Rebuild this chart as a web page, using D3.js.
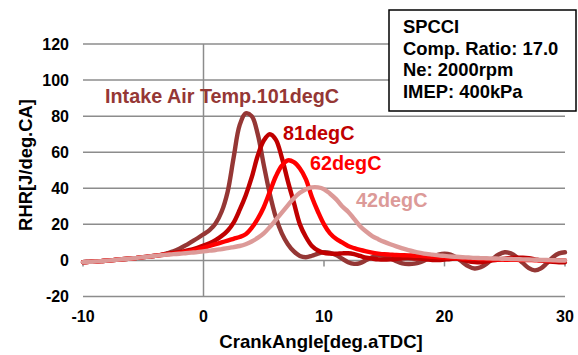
<!DOCTYPE html>
<html>
<head>
<meta charset="utf-8">
<script src="https://cdn.jsdelivr.net/npm/d3@7"></script>
<style>
  html, body { margin: 0; padding: 0; background: #fff; }
  svg { display: block; font-family: "Liberation Sans", Arial, sans-serif; font-weight: bold; }
</style>
</head>
<body>
<svg id="chart" width="578" height="355"></svg>
<script>
// Crank angle sampling (deg aTDC), 0.5 deg steps
const crankAngle = d3.range(-10, 30.001, 0.5);

// Rate of heat release [J/deg.CA] per intake air temperature
const rhr101 = [
  -1.0,-0.8,-0.6,-0.4,-0.1,0.2,0.5,0.8,1.1,1.4,1.8,2.2,2.6,3.1,4.0,5.0,6.5,8.3,10.3,12.3,
  14.5,16.8,20.5,27,38,57,75,81.5,80,70,53,37,24,15,9,5,2.5,1.8,2.6,3.8,
  4.5,4.2,3.0,1.0,-1.0,-1.9,-1.5,0.2,1.8,2.8,2.6,1.2,-0.4,-1.6,-2.0,-1.8,-0.9,0.5,2.0,3.2,
  3.7,3.2,1.5,-1.0,-3.3,-4.5,-3.8,-1.8,0.9,3.3,4.5,3.9,1.8,-1.4,-4.3,-5.5,-4.4,-1.5,1.8,3.9,
  4.5
];
const rhr81 = [
  -1.0,-0.8,-0.6,-0.4,-0.1,0.2,0.5,0.8,1.1,1.4,1.8,2.2,2.6,3.1,3.6,4.1,4.6,5.3,6.0,7.0,
  8.2,9.5,11.2,13.5,16.5,21,28,36,46,58,66.5,70,67,57,44,32,20,13,8,5.5,
  4.2,3.8,3.7,3.9,4.0,3.5,2.5,1.5,1.0,0.6,0.5,0.6,0.8,1.2,1.3,1.1,1.0,0.6,0.2,0.2,
  0.5,0.8,1.0,0.3,-0.5,-0.9,-1.0,-0.5,0,0.5,1.0,1.4,1.5,1.5,1.2,0.6,0,-0.5,-0.8,-1.0,
  -1.0
];
const rhr62 = [
  -1.0,-0.8,-0.6,-0.4,-0.1,0.2,0.5,0.8,1.1,1.4,1.8,2.2,2.6,3.0,3.4,3.8,4.2,4.7,5.3,6.1,
  7.0,8.0,9.0,10.0,11.0,12.0,13.0,14.5,18,23,29.5,38,46.5,52.5,55.5,54.5,51,45,35,27,
  20,15,12,10,8,6.8,5.8,5.0,4.3,3.8,3.4,3.2,3.0,2.9,2.8,2.6,2.5,2.3,2.0,1.8,
  1.6,1.4,1.2,1.1,1.0,0.9,0.8,0.7,0.6,0.5,0.4,0.3,0.3,0.2,0.2,0.1,0.1,0,0,0,
  0
];
const rhr42 = [
  -1.0,-0.8,-0.6,-0.4,-0.1,0.2,0.5,0.8,1.1,1.4,1.8,2.2,2.6,2.9,3.2,3.5,3.7,4.0,4.3,4.6,
  5.0,5.4,5.8,6.3,6.8,7.4,8.0,9.0,10.5,12.5,15,18.5,22.5,26.5,30.5,34.5,37.5,39.5,40.5,40.5,
  39.5,37,34,30,27,23,19,16,13.5,11.8,10.3,9.0,7.8,6.7,5.7,4.9,4.2,3.6,3.2,2.8,
  2.5,2.2,2.0,1.8,1.6,1.4,1.3,1.2,1.1,1.0,0.9,0.8,0.7,0.6,0.5,0.4,0.3,0.2,0.1,0,
  0
];

const seriesNames = ["Intake Air Temp.101degC", "81degC", "62degC", "42degC"];
const seriesColors = ["#953735", "#c00000", "#ff0000", "#dc9a98"];
const seriesValues = [rhr101, rhr81, rhr62, rhr42];

const xTicks = [-10, 0, 10, 20, 30];
const yTicks = [-20, 0, 20, 40, 60, 80, 100, 120];
const conditions = ["SPCCI", "Comp. Ratio: 17.0", "Ne: 2000rpm", "IMEP: 400kPa"];

const svg = d3.select("#chart");
const x = d3.scaleLinear().domain([-10, 30]).range([83, 565]);
const y = d3.scaleLinear().domain([-20, 120]).range([296.5, 44]);

// horizontal gridlines
svg.append("g").selectAll("line").data(yTicks).join("line")
  .attr("x1", x(-10)).attr("x2", x(30))
  .attr("y1", d => y(d)).attr("y2", d => y(d))
  .attr("stroke", "#8c8c8c").attr("stroke-width", 1.5);

// vertical axis through CA = 0
svg.append("line")
  .attr("x1", x(0)).attr("x2", x(0))
  .attr("y1", y(120)).attr("y2", y(-20))
  .attr("stroke", "#8c8c8c").attr("stroke-width", 1.5);

// x tick marks hanging below the zero line
svg.append("g").selectAll("line").data(xTicks.filter(d => d !== 0)).join("line")
  .attr("x1", d => x(d)).attr("x2", d => x(d))
  .attr("y1", y(0)).attr("y2", y(0) + 6)
  .attr("stroke", "#8c8c8c").attr("stroke-width", 1.5);

// y tick labels
svg.append("g").selectAll("text").data(yTicks).join("text")
  .attr("x", 69).attr("y", d => y(d)).attr("dy", "0.36em")
  .attr("text-anchor", "end").attr("font-size", 16).attr("fill", "#000")
  .text(d => d);

// x tick labels
svg.append("g").selectAll("text").data(xTicks).join("text")
  .attr("x", d => x(d)).attr("y", 322)
  .attr("text-anchor", "middle").attr("font-size", 16).attr("fill", "#000")
  .text(d => d);

// axis titles
svg.append("text")
  .attr("x", 321).attr("y", 348)
  .attr("text-anchor", "middle").attr("font-size", 18.6)
  .text("CrankAngle[deg.aTDC]");
svg.append("text")
  .attr("transform", `translate(32,${165}) rotate(-90)`)
  .attr("text-anchor", "middle").attr("font-size", 18.4)
  .text("RHR[J/deg.CA]");

// RHR curves
const line = d3.line()
  .x((d, i) => x(crankAngle[i]))
  .y(d => y(d))
  .curve(d3.curveCatmullRom.alpha(0.5));

svg.append("g").selectAll("path").data(seriesValues).join("path")
  .attr("d", d => line(d))
  .attr("fill", "none")
  .attr("stroke", (d, i) => seriesColors[i])
  .attr("stroke-width", 4.4)
  .attr("stroke-linejoin", "round")
  .attr("stroke-linecap", "round");

// series labels
const labelPos = [[105, 103], [283, 140], [310, 170], [356, 207]];
svg.append("g").selectAll("text").data(seriesNames).join("text")
  .attr("x", (d, i) => labelPos[i][0]).attr("y", (d, i) => labelPos[i][1])
  .attr("font-size", 19.8).attr("fill", (d, i) => seriesColors[i])
  .text(d => d);

// operating conditions box
const box = svg.append("g");
box.append("rect")
  .attr("x", 389).attr("y", 10).attr("width", 187).attr("height", 101)
  .attr("fill", "#fff").attr("stroke", "#000").attr("stroke-width", 1.5);
box.selectAll("text").data(conditions).join("text")
  .attr("x", 403).attr("y", (d, i) => 33 + i * 21.7)
  .attr("font-size", 18.4).attr("fill", "#000")
  .text(d => d);
</script>
</body>
</html>
